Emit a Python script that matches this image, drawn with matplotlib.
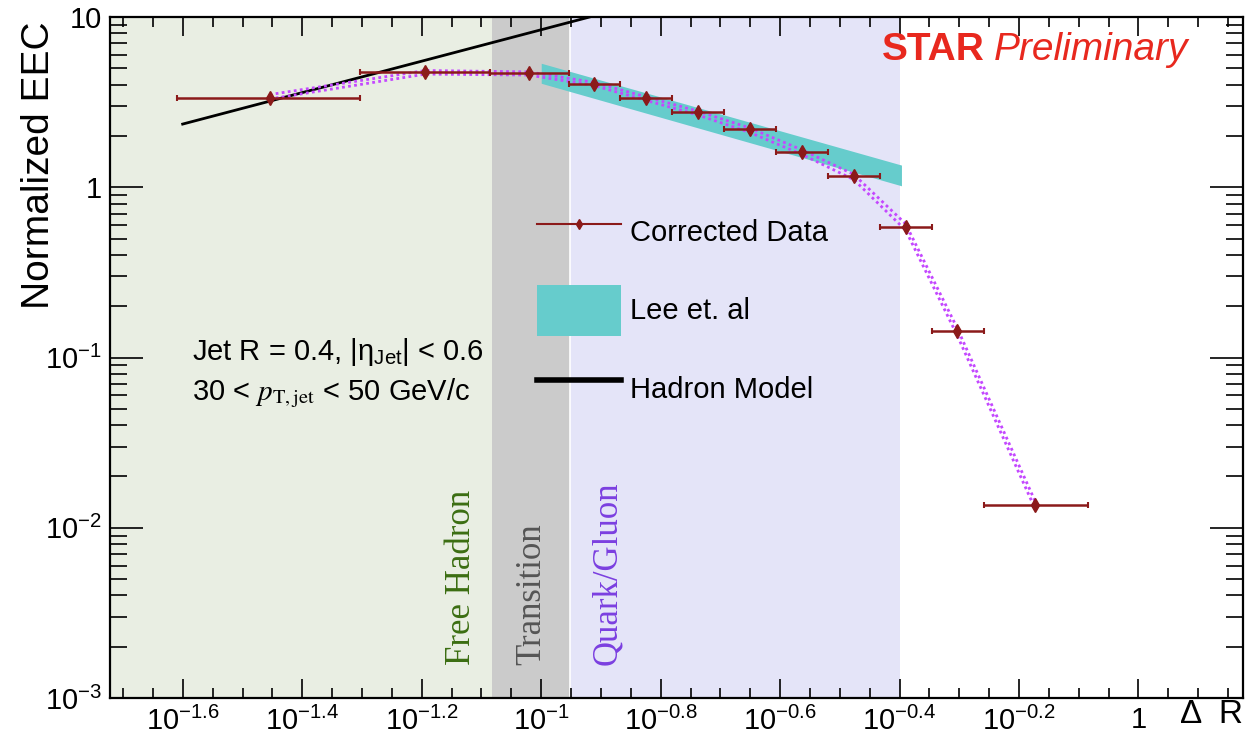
import numpy as np
import matplotlib
matplotlib.use("Agg")
import matplotlib.pyplot as plt
from matplotlib import transforms
from matplotlib.lines import Line2D

plt.rcParams['font.family'] = ['Liberation Sans', 'DejaVu Sans']
plt.rcParams['mathtext.fontset'] = 'custom'
plt.rcParams['mathtext.rm'] = 'Liberation Sans'
plt.rcParams['mathtext.it'] = 'Liberation Sans:italic'
plt.rcParams['mathtext.bf'] = 'Liberation Sans:bold'

# Corrected EEC data: bin centres, bin edges and values
dr = [0.0351, 0.0640, 0.0953, 0.1225, 0.1496, 0.1828, 0.2234, 0.2730, 0.3336, 0.4074, 0.4966, 0.6714]
dr_lo = [0.0246, 0.0498, 0.0820, 0.1112, 0.1355, 0.1656, 0.2023, 0.2472, 0.3020, 0.3690, 0.4508, 0.5508]
dr_hi = [0.0498, 0.0820, 0.1112, 0.1355, 0.1656, 0.2023, 0.2472, 0.3020, 0.3690, 0.4508, 0.5508, 0.8222]
eec = [3.33, 4.73, 4.67, 4.06, 3.34, 2.75, 2.19, 1.62, 1.16, 0.585, 0.143, 0.0136]

# MC curve (dotted band)
model_hi = [3.50, 4.85, 4.76, 4.13, 3.40, 2.80, 2.23, 1.66, 1.19, 0.61, 0.150, 0.0143]
model_lo = [3.30, 4.62, 4.56, 3.96, 3.24, 2.66, 2.10, 1.56, 1.11, 0.56, 0.136, 0.0129]

# Lee et al. perturbative band
lee_x = [0.100, 0.401]
lee_lo = [4.08, 1.02]
lee_hi = [5.35, 1.35]

# Free hadron model
hadron_x = [0.0251, 0.1205]
hadron_y = [2.35, 10.0]

# Region boundaries in Delta R
region_edges = [0.0180, 0.0826, 0.1116, 0.398]
region_colors = ['#e9eee3', '#cbcbcb', '#e4e4f8']
region_names = ['Free Hadron', 'Transition', 'Quark/Gluon']
region_text_x = [0.0736, 0.0964, 0.129]
region_text_colors = ['#3b6e12', '#555555', '#7b3fe0']

x_tick_exps = [-1.6, -1.4, -1.2, -1.0, -0.8, -0.6, -0.4, -0.2, 0.0]
x_tick_labels = [r'$10^{-1.6}$', r'$10^{-1.4}$', r'$10^{-1.2}$', r'$10^{-1}$', r'$10^{-0.8}$',
                 r'$10^{-0.6}$', r'$10^{-0.4}$', r'$10^{-0.2}$', '1']
y_ticks = [1e-3, 1e-2, 1e-1, 1, 10]
y_tick_labels = [r'$10^{-3}$', r'$10^{-2}$', r'$10^{-1}$', '1', '10']

data_color = '#8b1a1a'

fig = plt.figure(figsize=(12.54, 7.42), dpi=100)
ax = fig.add_axes([110 / 1254, 1 - 698 / 742, 1133 / 1254, 681 / 742])
ax.set_xscale('log')
ax.set_yscale('log')
ax.set_xlim(10 ** -1.722, 10 ** 0.175)
ax.set_ylim(1e-3, 10)

# shaded regions
for i in range(3):
    ax.axvspan(region_edges[i], region_edges[i + 1], color=region_colors[i], lw=0, zorder=0)
ax.axvline(region_edges[2], color='white', lw=1.2, zorder=0.5)

trans = transforms.blended_transform_factory(ax.transData, ax.transAxes)
for name, xt, c in zip(region_names, region_text_x, region_text_colors):
    ax.text(xt, 0.048, name, rotation=90, ha='center', va='bottom', transform=trans,
            color=c, fontsize=25, family='Liberation Serif')

hadron_line, = ax.plot(hadron_x, hadron_y, color='black', lw=2, zorder=2)
lee_band = ax.fill_between(lee_x, lee_lo, lee_hi, color='#66cccc', lw=0, zorder=3)

ax.plot(dr, model_hi, ls=(0, (1, 1.2)), color='#c448ff', lw=2, zorder=4)
ax.plot(dr, model_lo, ls=(0, (1, 1.2)), color='#c448ff', lw=2, zorder=4)

dr_a = np.array(dr)
ax.errorbar(dr, eec, xerr=[dr_a - np.array(dr_lo), np.array(dr_hi) - dr_a],
            fmt='d', color=data_color, ms=7, elinewidth=1.8, capsize=2.5, capthick=1.5,
            zorder=5)

data_key = Line2D([], [], color=data_color, lw=1.5, marker='d', ms=5)
hadron_key = Line2D([], [], color='black', lw=4)
leg = ax.legend([data_key, lee_band, hadron_key], ['Corrected Data', 'Lee et. al', 'Hadron Model'],
                loc='upper left', bbox_to_anchor=(0.3765, 0.722), frameon=False, fontsize=21,
                borderpad=0, borderaxespad=0, handlelength=2.9, handleheight=2.3,
                handletextpad=0.3, labelspacing=0.95)

ax.text(0.0727, 0.508, 'Jet R = 0.4, |η$_{\\rm Jet}$| < 0.6', transform=ax.transAxes,
        fontsize=21, va='center', ha='left', math_fontfamily='custom')
ax.text(0.0727, 0.448, r'30 < $p_{\mathrm{T,jet}}$ < 50 GeV/c', transform=ax.transAxes,
        fontsize=21, va='center', ha='left', math_fontfamily='stix')

ax.text(0.681, 0.952, 'STAR', transform=ax.transAxes, color='#e8281e', fontsize=28,
        fontweight='bold', va='center', ha='left')
ax.text(0.780, 0.952, 'Preliminary', transform=ax.transAxes, color='#e8281e', fontsize=28,
        style='italic', va='center', ha='left')

# axes, ticks and labels
ax.set_xticks([10 ** e for e in x_tick_exps])
ax.set_xticklabels(x_tick_labels)
minor_exps = [e for e in np.arange(-1.70, 0.16, 0.05) if min(abs(e - m) for m in x_tick_exps) > 1e-6]
ax.set_xticks([10 ** e for e in minor_exps], minor=True)
ax.xaxis.set_minor_formatter(plt.NullFormatter())
ax.set_yticks(y_ticks)
ax.set_yticklabels(y_tick_labels)
ax.yaxis.set_minor_locator(matplotlib.ticker.LogLocator(base=10, subs=np.arange(2, 10)))
ax.yaxis.set_minor_formatter(plt.NullFormatter())

ax.tick_params(which='both', direction='in', top=True, right=True, width=1.2, labelsize=21)
ax.xaxis.set_tick_params(which='major', length=14, pad=6)
ax.xaxis.set_tick_params(which='minor', length=7)
ax.yaxis.set_tick_params(which='major', length=24, pad=6)
ax.yaxis.set_tick_params(which='minor', length=12)
for s in ax.spines.values():
    s.set_linewidth(1.6)

ax.set_xlabel('Δ  R', fontsize=24, loc='right')
ax.xaxis.set_label_coords(1.0, -0.002)
ax.set_ylabel('Normalized EEC', fontsize=28)
ax.yaxis.set_label_coords(-0.047, 0.783)

fig.savefig('out.png', dpi=100)
